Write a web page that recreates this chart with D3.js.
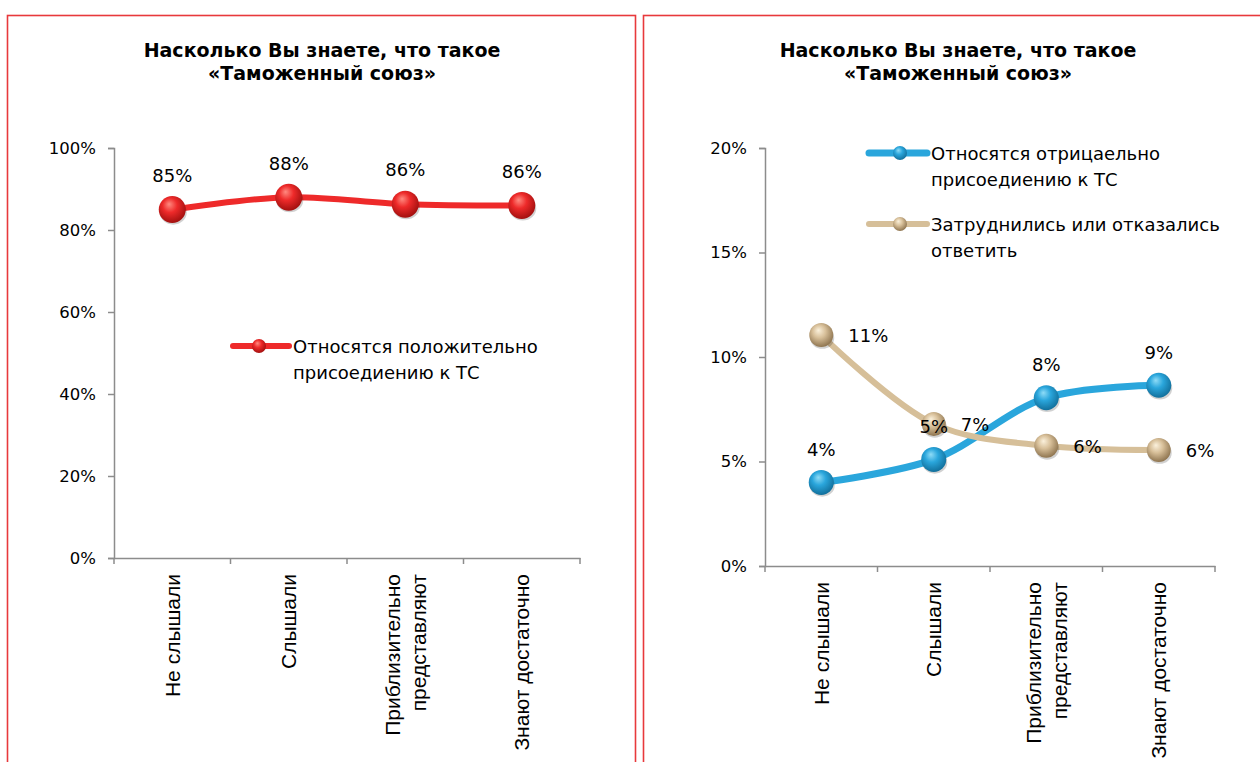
<!DOCTYPE html>
<html>
<head>
<meta charset="utf-8">
<script src="https://cdn.jsdelivr.net/npm/d3@7"></script>
<style>
  body { margin: 0; background: #fff; }
  svg { display: block; }
</style>
</head>
<body>
<script>
var width = 1260, height = 762;

// data
var categories = ["Не слышали", "Слышали", "Приблизительно|представляют", "Знают достаточно"];
var titleLines = ["Насколько Вы знаете, что такое", "«Таможенный союз»"];

var positive = [85, 88, 86.3, 86];
var negative = [4, 5.1, 8.05, 8.65];
var undecided = [11.05, 6.8, 5.75, 5.55];

var positiveLabels = ["85%", "88%", "86%", "86%"];
var negativeLabels = ["4%", "5%", "8%", "9%"];
var undecidedLabels = ["11%", "7%", "6%", "6%"];

var leftTicks = [0, 20, 40, 60, 80, 100];
var rightTicks = [0, 5, 10, 15, 20];

var svg = d3.select("body").append("svg")
    .attr("width", width)
    .attr("height", height);

var defs = svg.append("defs");

// shiny ball markers like the excel ones
function ballGradient(id, light, mid, dark) {
    var g = defs.append("radialGradient")
        .attr("id", id)
        .attr("cx", "45%").attr("cy", "40%").attr("r", "60%")
        .attr("fx", "38%").attr("fy", "30%");
    g.append("stop").attr("offset", "0%").attr("stop-color", light);
    g.append("stop").attr("offset", "45%").attr("stop-color", mid);
    g.append("stop").attr("offset", "100%").attr("stop-color", dark);
}
ballGradient("ballRed", "#ff8a80", "#ee2a2a", "#a3100f");
ballGradient("ballBlue", "#8fdcf7", "#2aa6dc", "#12709c");
ballGradient("ballTan", "#fbf1dc", "#d8c09a", "#8f7550");

// panel frames
svg.append("rect").attr("x", 7.5).attr("y", 15.5).attr("width", 628).attr("height", 770)
    .attr("fill", "none").attr("stroke", "#e8393c").attr("stroke-width", 1.6);
svg.append("rect").attr("x", 643.5).attr("y", 15.5).attr("width", 640).attr("height", 770)
    .attr("fill", "none").attr("stroke", "#e8393c").attr("stroke-width", 1.6);

var line = d3.line().curve(d3.curveCatmullRom.alpha(0.5));

function drawPanel(p) {
    var g = svg.append("g");

    // title
    g.append("text")
        .attr("x", p.cx)
        .attr("y", 57)
        .attr("text-anchor", "middle")
        .style("font-family", "'DejaVu Sans'")
        .style("font-weight", "bold")
        .style("font-size", "19px")
        .selectAll("tspan")
        .data(titleLines)
        .enter().append("tspan")
        .attr("x", p.cx)
        .attr("dy", function(d, i){ return i == 0 ? 0 : 23; })
        .text(function(d){ return d; });

    var x = d3.scaleBand().domain(categories).range([p.x0, p.x1]);
    var y = d3.scaleLinear().domain(p.domain).range([p.y0, p.y1]);

    // y axis
    var yAxis = g.append("g")
        .attr("transform", "translate(" + p.x0 + ",0)")
        .call(d3.axisLeft(y).tickValues(p.ticks).tickSize(6).tickPadding(12)
            .tickFormat(function(d){ return d + "%"; }));
    yAxis.selectAll("path, line").attr("stroke", "#8c8c8c").attr("stroke-width", 1.5);
    yAxis.selectAll("text")
        .style("font-family", "'DejaVu Sans'")
        .style("font-size", "16.5px")
        .attr("fill", "#000");

    // x axis
    var xAxis = g.append("g")
        .attr("transform", "translate(0," + p.y0 + ")")
        .call(d3.axisBottom(x).tickSize(0).tickFormat(""));
    xAxis.select("path").attr("stroke", "#8c8c8c").attr("stroke-width", 1.5);
    xAxis.selectAll(".tick").remove();
    var edges = categories.map(function(c){ return x(c); }).concat([p.x1]);
    g.selectAll(".xtick").data(edges).enter().append("line")
        .attr("x1", function(d){ return d; }).attr("x2", function(d){ return d; })
        .attr("y1", p.y0).attr("y2", p.y0 + 6)
        .attr("stroke", "#8c8c8c").attr("stroke-width", 1.5);

    // category labels, rotated
    categories.forEach(function(c){
        var parts = c.split("|");
        var cx = x(c) + x.bandwidth() / 2;
        var t = g.append("text")
            .attr("transform", "translate(" + cx + "," + (p.y0 + 16) + ") rotate(-90)")
            .attr("text-anchor", "end")
            .style("font-family", "'Liberation Sans'")
            .style("font-size", "21px");
        parts.forEach(function(s, i){
            t.append("tspan")
                .attr("x", 0)
                .attr("y", (i - (parts.length - 1) / 2) * 26 + 7.5)
                .text(s);
        });
    });

    // series
    p.series.forEach(function(s){
        var pts = s.values.map(function(v, i){
            return [x(categories[i]) + x.bandwidth() / 2, y(v)];
        });
        g.append("path")
            .attr("d", line(pts))
            .attr("fill", "none")
            .attr("stroke", s.color)
            .attr("stroke-width", s.width)
            .attr("stroke-linecap", "round");
        s.pts = pts;
    });
    p.series.forEach(function(s){
        g.selectAll(null).data(s.pts).enter().append("ellipse")
            .attr("cx", function(d){ return d[0] + 1; })
            .attr("cy", function(d){ return d[1] + 3; })
            .attr("rx", s.r).attr("ry", s.r * 0.9)
            .attr("fill", "rgba(0,0,0,0.18)");
        g.selectAll(null).data(s.pts).enter().append("circle")
            .attr("cx", function(d){ return d[0]; })
            .attr("cy", function(d){ return d[1]; })
            .attr("r", s.r)
            .attr("fill", "url(#" + s.grad + ")");
    });
    p.series.forEach(function(s){
        g.selectAll(null).data(s.pts).enter().append("text")
            .attr("x", function(d){ return d[0] + s.lx; })
            .attr("y", function(d){ return d[1] + s.ly; })
            .attr("text-anchor", s.lx == 0 ? "middle" : "start")
            .attr("dy", "0.35em")
            .style("font-family", "'DejaVu Sans'")
            .style("font-size", "18px")
            .text(function(d, i){ return s.labels[i]; });
    });

    // legend
    p.legend.forEach(function(l){
        var s = p.series[l.index];
        g.append("line")
            .attr("x1", l.x).attr("x2", l.x + l.len)
            .attr("y1", l.y).attr("y2", l.y)
            .attr("stroke", s.color).attr("stroke-width", s.width)
            .attr("stroke-linecap", "round");
        g.append("circle")
            .attr("cx", l.x + l.len / 2 + l.mx).attr("cy", l.y)
            .attr("r", l.r)
            .attr("fill", "url(#" + s.grad + ")");
        var t = g.append("text")
            .style("font-family", "'DejaVu Sans'")
            .style("font-size", "18px");
        l.lines.forEach(function(str, i){
            t.append("tspan")
                .attr("x", l.x + l.len + 4)
                .attr("y", l.y + i * 26 + 6.5)
                .text(str);
        });
    });
}

drawPanel({
    cx: 322,
    x0: 114, x1: 580, y0: 558, y1: 148,
    domain: [0, 100],
    ticks: leftTicks,
    series: [
        { values: positive, labels: positiveLabels, color: "#ee2a2a", width: 6, r: 13.5,
          grad: "ballRed", lx: 0, ly: -34 }
    ],
    legend: [
        { index: 0, x: 233, y: 346, len: 56, mx: -2, r: 7,
          lines: ["Относятся положительно", "присоедиению к ТС"] }
    ]
});

drawPanel({
    cx: 958,
    x0: 765, x1: 1215, y0: 566, y1: 148,
    domain: [0, 20],
    ticks: rightTicks,
    series: [
        { values: negative, labels: negativeLabels, color: "#2aa6dc", width: 7, r: 12.5,
          grad: "ballBlue", lx: 0, ly: -33 },
        { values: undecided, labels: undecidedLabels, color: "#d6bf99", width: 6, r: 12,
          grad: "ballTan", lx: 27, ly: 1 }
    ],
    legend: [
        { index: 0, x: 869, y: 153, len: 58, mx: 2, r: 7,
          lines: ["Относятся отрицаельно", "присоедиению к ТС"] },
        { index: 1, x: 869, y: 224, len: 58, mx: 2, r: 7,
          lines: ["Затруднились или отказались", "ответить"] }
    ]
});
</script>
</body>
</html>
